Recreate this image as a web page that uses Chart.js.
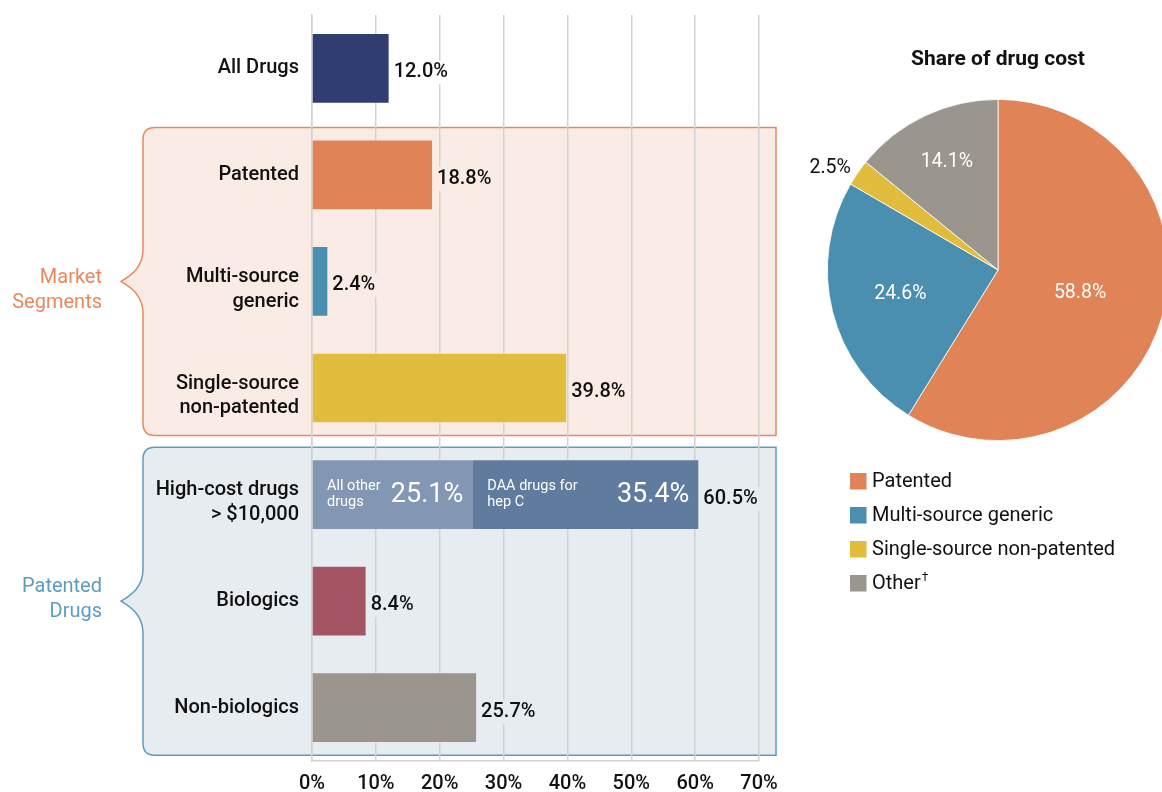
<!DOCTYPE html>
<html><head><meta charset="utf-8">
<script src="https://cdn.jsdelivr.net/npm/chart.js@4/dist/chart.umd.min.js"></script>
<style>
html,body{margin:0;padding:0;background:#fff;overflow:hidden;width:1162px;height:792px}
#wrap{position:relative;width:1162px;height:792px;overflow:hidden}
#bar{position:absolute;left:0;top:0}
#pie{position:absolute;left:800px;top:0}
</style></head><body>
<div id="wrap">
<canvas id="bar" width="800" height="792"></canvas>
<canvas id="pie" width="396" height="792"></canvas>
</div>
<script>
// ---- data ----
const categories = [['All Drugs'], ['Patented'], ['Multi-source', 'generic'], ['Single-source', 'non-patented'], ['High-cost drugs', '> $10,000'], ['Biologics'], ['Non-biologics']];
const primaryValues = [12.0, 18.8, 2.4, 39.8, 25.1, 8.4, 25.7];
const hepCValues = [0, 0, 0, 0, 35.4, 0, 0];
const barColors = ['#2F3D73', '#E08357', '#4A8EB0', '#E2BC3D', '#8396B3', '#A45563', '#9A968D'];
const hepCColor = '#5F7B9E';
const segmentCaptions = [['All other', 'drugs'], ['DAA drugs for', 'hep C']];
const xTickValues = [0, 10, 20, 30, 40, 50, 60, 70];
const groupLabels = [['Market', 'Segments'], ['Patented', 'Drugs']];
const groupFirst = [1, 4];
const groupLast = [3, 6];
const groupLine = ['#E8885E', '#5C9DBE'];
const groupFill = ['#FAECE5', '#E7ECF1'];
const pieTitle = 'Share of drug cost';
const pieLabels = ['Patented', 'Multi-source generic', 'Single-source non-patented', 'Other†'];
const pieValues = [58.8, 24.6, 2.5, 14.1];
const pieColors = ['#E08357', '#4A8EB0', '#E2BC3D', '#9A968D'];

Chart.defaults.font.family = 'Roboto, "DejaVu Sans", sans-serif';
Chart.defaults.color = '#111';

const groupLabelShift = [9, -2];

function bandIndex(i) {
  for (let g = 0; g < groupFirst.length; g++) if (i >= groupFirst[g] && i <= groupLast[g]) return g;
  return -1;
}

const bracePlugin = {
  id: 'braces',
  beforeDraw(chart) {
    const ctx = chart.ctx, ys = chart.scales.y;
    const step = ys.getPixelForValue(1) - ys.getPixelForValue(0);
    const x0 = 143, x1 = 776, r = 12, tipX = 121;
    ctx.save();
    for (let g = 0; g < groupFirst.length; g++) {
      const top = ys.getPixelForValue(groupFirst[g]) - 0.445 * step;
      const bot = ys.getPixelForValue(groupLast[g]) + 0.445 * step;
      const tipY = (ys.getPixelForValue(groupFirst[g]) + ys.getPixelForValue(groupLast[g])) / 2;
      ctx.beginPath();
      ctx.moveTo(x0 + r, top);
      ctx.lineTo(x1, top);
      ctx.lineTo(x1, bot);
      ctx.lineTo(x0 + r, bot);
      ctx.quadraticCurveTo(x0, bot, x0, bot - r);
      ctx.lineTo(x0, tipY + 32);
      ctx.bezierCurveTo(x0, tipY + 14, tipX + 10, tipY + 6, tipX, tipY);
      ctx.bezierCurveTo(tipX + 10, tipY - 6, x0, tipY - 14, x0, tipY - 32);
      ctx.lineTo(x0, top + r);
      ctx.quadraticCurveTo(x0, top, x0 + r, top);
      ctx.closePath();
      ctx.fillStyle = groupFill[g];
      ctx.fill();
      ctx.lineWidth = 1.5;
      ctx.strokeStyle = groupLine[g];
      ctx.stroke();
      // group label
      ctx.fillStyle = groupLine[g];
      ctx.font = '400 20px Roboto, sans-serif';
      ctx.textAlign = 'right';
      ctx.textBaseline = 'middle';
      const lines = groupLabels[g];
      lines.forEach((t, k) => ctx.fillText(t, 102, tipY + groupLabelShift[g] + (k - (lines.length - 1) / 2) * 25));
    }
    ctx.restore();
  }
};

const valueLabelPlugin = {
  id: 'valueLabels',
  afterDatasetsDraw(chart) {
    const ctx = chart.ctx, xs = chart.scales.x;
    const m0 = chart.getDatasetMeta(0);
    ctx.save();
    ctx.textBaseline = 'middle';
    primaryValues.forEach((v, i) => {
      const total = v + hepCValues[i];
      const bar = m0.data[i];
      // category label
      const lines = categories[i];
      const cy = bar.y + (lines.length > 1 ? 8 : 0);
      ctx.font = '500 20px Roboto, sans-serif';
      ctx.fillStyle = '#111';
      ctx.textAlign = 'right';
      lines.forEach((t, k) => ctx.fillText(t, 299, cy + (k - (lines.length - 1) / 2) * 24.5));
      // value label
      const y = bar.y + 4;
      const x = xs.getPixelForValue(total) + 5;
      const txt = total.toFixed(1) + '%';
      const w = ctx.measureText(txt).width;
      const b = bandIndex(i);
      ctx.fillStyle = b < 0 ? '#fff' : groupFill[b];
      ctx.fillRect(x - 2, y - 12, w + 4, 24);
      ctx.fillStyle = '#111';
      ctx.textAlign = 'left';
      ctx.fillText(txt, x, y);
      if (hepCValues[i] > 0) {
        const segs = [[0, v], [v, total]];
        const vals = [v, hepCValues[i]];
        segs.forEach((s, k) => {
          const sx = xs.getPixelForValue(s[0]), ex = xs.getPixelForValue(s[1]);
          ctx.fillStyle = '#fff';
          ctx.font = '400 14.5px Roboto, sans-serif';
          ctx.textAlign = 'left';
          segmentCaptions[k].forEach((t, j) => ctx.fillText(t, sx + 15, bar.y - 8 + j * 16));
          ctx.font = '400 27px Roboto, sans-serif';
          ctx.textAlign = 'right';
          ctx.fillText(vals[k].toFixed(1) + '%', ex - 9, bar.y + 1);
        });
      }
    });
    ctx.restore();
  }
};

new Chart(document.getElementById('bar'), {
  type: 'bar',
  data: {
    labels: categories,
    datasets: [
      { data: primaryValues, backgroundColor: barColors, borderWidth: 0, barPercentage: 0.645, categoryPercentage: 1 },
      { data: hepCValues, backgroundColor: hepCColor, borderWidth: 0, barPercentage: 0.645, categoryPercentage: 1 }
    ]
  },
  options: {
    responsive: false,
    animation: false,
    indexAxis: 'y',
    layout: { padding: { top: 15, right: 41, left: 0, bottom: 0 } },
    plugins: { legend: { display: false }, tooltip: { enabled: false } },
    scales: {
      x: {
        stacked: true, min: 0, max: 70,
        afterBuildTicks(s) { s.ticks = xTickValues.map(v => ({ value: v })); },
        afterFit(s) { s.height = 31; s.paddingLeft = 0; s.paddingRight = 0; },
        ticks: { callback: v => v + '%', font: { size: 20, weight: '500' }, color: '#111', padding: 11 },
        grid: { color: '#D2D2D2', lineWidth: 1.5, drawTicks: false },
        border: { display: true, color: '#D2D2D2', width: 1.5 }
      },
      y: {
        stacked: true,
        afterFit(s) { s.width = 312; s.paddingTop = 0; s.paddingBottom = 0; },
        ticks: { display: false },
        grid: { display: false, drawTicks: false },
        border: { display: true, color: '#D2D2D2', width: 1.5 }
      }
    }
  },
  plugins: [bracePlugin, valueLabelPlugin]
});

const labelRadius = [0.5, 0.59, 1.05, 0.7];
const pieLabelPlugin = {
  id: 'pieLabels',
  afterDatasetsDraw(chart) {
    const ctx = chart.ctx, meta = chart.getDatasetMeta(0);
    ctx.save();
    ctx.textBaseline = 'middle';
    ctx.font = '400 19.5px Roboto, sans-serif';
    meta.data.forEach((arc, i) => {
      const p = arc.getProps(['x', 'y', 'startAngle', 'endAngle', 'outerRadius'], true);
      const mid = (p.startAngle + p.endAngle) / 2;
      const f = labelRadius[i];
      const tx = p.x + Math.cos(mid) * p.outerRadius * f;
      const ty = p.y + Math.sin(mid) * p.outerRadius * f;
      const txt = pieValues[i].toFixed(1) + '%';
      if (f > 1) { ctx.fillStyle = '#111'; ctx.textAlign = 'right'; }
      else { ctx.fillStyle = '#fff'; ctx.textAlign = 'center'; }
      ctx.fillText(txt, tx, ty);
    });
    // legend
    const lx = 50, ly0 = 481, dy = 34;
    pieLabels.forEach((lab, i) => {
      const y = ly0 + i * dy;
      ctx.fillStyle = pieColors[i];
      ctx.fillRect(lx, y - 8, 16.5, 16.5);
      ctx.fillStyle = '#111';
      ctx.textAlign = 'left';
      ctx.font = '400 20px Roboto, sans-serif';
      let t = lab, sup = '';
      if (t.endsWith('†')) { sup = '†'; t = t.slice(0, -1); }
      ctx.fillText(t, lx + 22, y + 1);
      if (sup) {
        const w = ctx.measureText(t).width;
        ctx.font = '400 12px Roboto, sans-serif';
        ctx.fillText(sup, lx + 23 + w, y - 5);
      }
    });
    ctx.restore();
  }
};

new Chart(document.getElementById('pie'), {
  type: 'pie',
  data: {
    labels: pieLabels,
    datasets: [{ data: pieValues, backgroundColor: pieColors, borderWidth: 0.8, borderColor: '#fff' }]
  },
  options: {
    responsive: false,
    animation: false,
    layout: { padding: { top: 0, bottom: 351, left: 0, right: 0 } },
    plugins: {
      legend: { display: false },
      tooltip: { enabled: false },
      title: { display: true, text: pieTitle, font: { size: 21, weight: 'bold' }, color: '#111', padding: { top: 47, bottom: 26.8 } }
    }
  },
  plugins: [pieLabelPlugin]
});
</script>
</body></html>
